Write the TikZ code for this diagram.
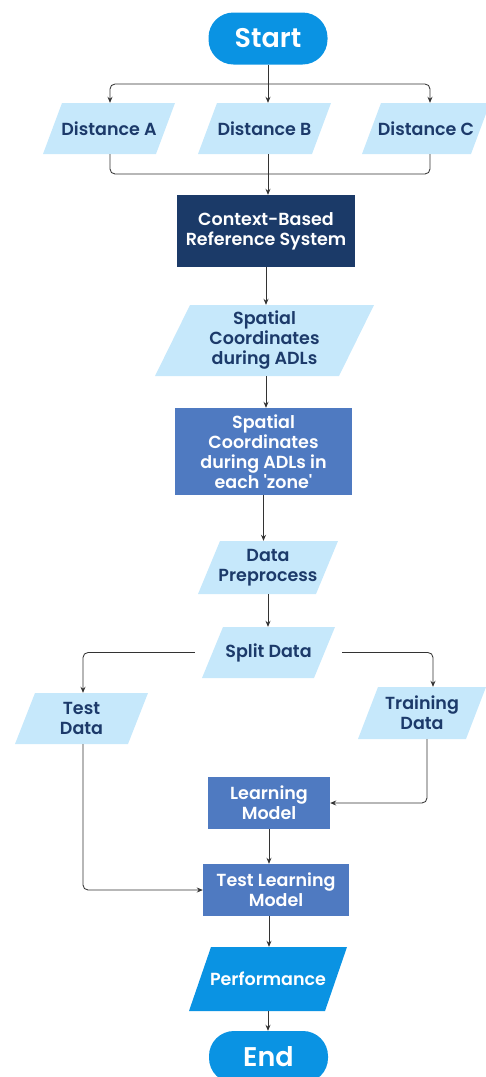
\documentclass[tikz,border=0pt]{standalone}
\usepackage{fontspec}
\setmainfont{Poppins}[BoldFont={* SemiBold}]
\usetikzlibrary{arrows.meta}
\definecolor{lightb}{HTML}{C6E8FB}
\definecolor{navy}{HTML}{1B3A68}
\definecolor{midb}{HTML}{4F7AC1}
\definecolor{brightb}{HTML}{0A93E3}
\definecolor{txtnavy}{HTML}{1C3A6A}
\definecolor{linec}{HTML}{333333}
\tikzset{
  pskew/.store in=\pskew, pskew=20pt,
  pcol/.store in=\pcol, pcol=lightb,
  lbl/.style={font=\bfseries\fontsize{17.5}{20}\selectfont, align=center, inner sep=0pt},
  para/.style={lbl, text=txtnavy, minimum width=#1,
    path picture={\fill[fill=\pcol]
      ([xshift=\pskew]path picture bounding box.north west) --
      (path picture bounding box.north east) --
      ([xshift=-\pskew]path picture bounding box.south east) --
      (path picture bounding box.south west) -- cycle;}},
  boxnode/.style={lbl, text=white, fill=#1},
  term/.style={font=\bfseries\fontsize{27}{30}\selectfont, text=white, fill=brightb,
    rounded corners=25pt, minimum width=119pt, minimum height=52pt, inner sep=0pt},
  arr/.style={draw=linec, line width=0.85pt, -{Stealth[length=6pt,width=5pt]}},
  ln/.style={draw=linec, line width=0.85pt},
}
\begin{document}
\begin{tikzpicture}[x=1pt,y=-1pt]
\useasboundingbox (0,0) rectangle (486,1077);
% nodes
\node[term] (start) at (268,38.5) {Start};
\node[para=132pt, minimum height=51pt, pskew=19pt] (dA) at (109,128.5) {Distance A};
\node[para=133pt, minimum height=51pt, pskew=19pt] (dB) at (264.5,128.5) {Distance B};
\node[para=128pt, minimum height=51pt, pskew=19pt] (dC) at (426,128.5) {Distance C};
\node[boxnode=navy, minimum width=178pt, minimum height=72pt] (ctx) at (266,231) {Context-Based\\Reference System};
\node[para=219pt, minimum height=71pt, pskew=35pt] (sp) at (264.5,340.5) {Spatial\\Coordinates\\during ADLs};
\node[boxnode=midb, minimum width=177pt, minimum height=87pt] (zone) at (263.5,451.5) {Spatial\\Coordinates\\during ADLs in\\each \textquotesingle zone\textquotesingle};
\node[para=140pt, minimum height=53pt, pskew=22pt] (dp) at (268,567.5) {Data\\Preprocess};
\node[para=133pt, minimum height=51pt, pskew=21pt] (split) at (268.5,652.5) {Split Data};
\node[para=133pt, minimum height=51pt, pskew=20pt] (test) at (81.5,718.5) {Test\\Data};
\node[para=128pt, minimum height=52pt, pskew=20pt] (train) at (422,713) {Training\\Data};
\node[boxnode=midb, minimum width=122pt, minimum height=52pt] (lm) at (269,803) {Learning\\Model};
\node[boxnode=midb, minimum width=146pt, minimum height=52pt] (tlm) at (276,890) {Test Learning\\Model};
\node[para=158pt, minimum height=64pt, pskew=22pt, pcol=brightb, text=white] (perf) at (268,979) {Performance};
\node[term] (end) at (268.5,1057) {End};
% junctions
\coordinate (j1) at (268,84);
\coordinate (j2) at (268,174);
% connectors
\draw[ln] (start.south) -- (j1);
\draw[arr, rounded corners=5pt] (j1) -| ([xshift=1pt]dA.north);
\draw[arr, rounded corners=5pt] (j1) -| ([xshift=4pt]dC.north);
\draw[arr] (j1) -- (j1 |- dB.north);
\draw[ln, rounded corners=5pt] ([xshift=1pt]dA.south) |- (j2);
\draw[ln, rounded corners=5pt] ([xshift=4pt]dC.south) |- (j2);
\draw[ln] (j2 |- dB.south) -- (j2);
\draw[arr] (j2) -- (j2 |- ctx.north);
\draw[arr] (ctx.south) -- (ctx.south |- sp.north);
\draw[arr] (ctx.south |- sp.south) -- (ctx.south |- zone.north);
\draw[arr] (zone.south) -- (zone.south |- dp.north);
\draw[arr] (dp.south) -- (dp.south |- split.north);
\draw[arr, rounded corners=5pt] ([xshift=-7pt]split.west) -| ([xshift=1.5pt]test.north);
\draw[arr, rounded corners=5pt] ([xshift=7pt]split.east) -| ([xshift=11pt]train.north);
\draw[arr, rounded corners=5pt] ([xshift=5pt]train.south) |- (lm.east);
\draw[arr] (lm.south) -- (lm.south |- tlm.north);
\draw[arr, rounded corners=5pt] ([xshift=1.5pt]test.south) |- (tlm.west);
\draw[arr] (lm.south |- tlm.south) -- (lm.south |- perf.north);
\draw[arr] (perf.south) -- (perf.south |- end.north);
\end{tikzpicture}
\end{document}
